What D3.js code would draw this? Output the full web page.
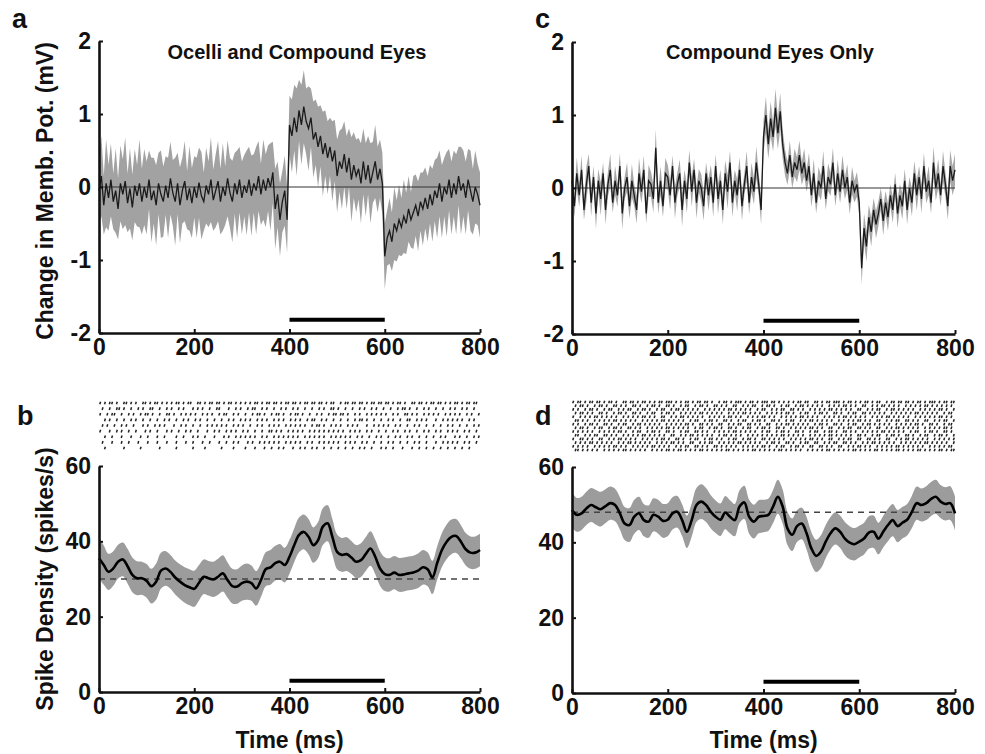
<!DOCTYPE html>
<html lang="en">
<head>
<meta charset="UTF-8" />
<title>Membrane potential and spike density</title>
<style>
  body { margin: 0; background: #fff; }
  svg { display: block; background: #fff; }
  text { font-family: "Liberation Sans", Arial, Helvetica, sans-serif; font-weight: bold; fill: #111; }
  .axis path, .axis line { stroke: #111; }
  .axis path { stroke-width: 2.6; }
  .axis line { stroke-width: 2; }
  .axis text { font-size: 23px; font-family: "Liberation Sans", Arial, sans-serif; font-weight: bold; fill: #111; }
</style>
</head>
<body>
<svg id="fig" width="985" height="754"></svg>
<script src="https://d3js.org/d3.v7.min.js"></script>
<script>
// ---- data ----
const timeTicks = [0, 200, 400, 600, 800];
const vmTicks = [-2, -1, 0, 1, 2];
const rateTicks = [0, 20, 40, 60];
const stimulus = [400, 600];

// membrane potential, one value every 5 ms (mV)
const vmStep = 5;
const vmMeanA = [
  -0.05, 0.15, -0.25, 0.05, -0.15, 0.1, -0.2, -0.05, -0.3, 0.05, -0.1, 0.08, -0.22, -0.02, -0.28, 0.02, -0.12, 0.05, -0.2, 0.0,
  -0.15, 0.1, -0.18, -0.05, -0.25, 0.05, -0.1, -0.2, 0.02, -0.15, 0.12, -0.08, -0.2, 0.05, -0.25, -0.05, 0.08, -0.18, -0.02, -0.22,
  0.0, -0.15, 0.06, -0.12, -0.2, 0.02, -0.1, 0.1, -0.18, -0.05, 0.08, -0.2, 0.0, -0.12, 0.12, -0.08, -0.2, 0.05, -0.1, 0.1,
  -0.15, 0.02, -0.08, 0.1, -0.12, 0.05, -0.05, 0.15, -0.1, 0.1, -0.05, 0.12, 0.0, 0.2, -0.3, -0.1, -0.45, -0.2, -0.05, -0.45,
  0.85, 0.7, 0.95, 0.75, 1.05, 0.85, 1.1, 0.9, 0.8, 0.95, 0.65, 0.75, 0.55, 0.7, 0.45, 0.6, 0.4, 0.55, 0.35, 0.5,
  0.15, 0.35, 0.25, 0.45, 0.2, 0.4, 0.1, 0.3, 0.15, 0.25, 0.05, 0.35, 0.1, 0.3, 0.05, 0.2, 0.35, 0.1, 0.25, 0.05,
  -0.95, -0.7, -0.6, -0.75, -0.5, -0.6, -0.45, -0.55, -0.4, -0.5, -0.3, -0.45, -0.35, -0.25, -0.4, -0.2, -0.3, -0.15, -0.3, -0.1,
  -0.25, -0.05, -0.15, 0.05, -0.2, 0.0, -0.1, 0.1, -0.15, 0.05, -0.1, 0.15, -0.05, 0.05, -0.15, 0.1, -0.05, -0.2, 0.0, -0.1,
  -0.25
];
const vmSemA = [
  .45,.55,.4,.6,.45,.5,.38,.58,.42,.52,.48,.6,.4,.55,.45,.5,.42,.6,.45,.52,
  .5,.4,.58,.45,.55,.42,.6,.48,.4,.55,.5,.45,.6,.42,.52,.45,.55,.4,.58,.48,
  .42,.55,.48,.6,.4,.52,.45,.58,.42,.5,.55,.45,.6,.4,.52,.48,.56,.42,.6,.45,
  .5,.42,.58,.45,.55,.4,.6,.48,.42,.55,.5,.45,.6,.42,.55,.45,.5,.42,.48,.45,
  .4,.5,.45,.6,.42,.55,.5,.45,.58,.4,.52,.45,.55,.42,.58,.45,.5,.4,.55,.42,
  .5,.42,.55,.45,.5,.4,.58,.45,.5,.42,.55,.45,.5,.4,.55,.42,.5,.45,.4,.42,
  .45,.38,.45,.4,.5,.42,.48,.4,.5,.42,.45,.38,.5,.42,.48,.4,.5,.42,.45,.4,
  .5,.42,.55,.45,.5,.4,.58,.42,.5,.45,.55,.4,.6,.45,.5,.42,.55,.45,.5,.42,
  .45
];
const vmMeanC = [
  0.1, -0.25, 0.2, -0.1, 0.25, -0.3, 0.05, 0.3, -0.2, 0.15, -0.35, 0.1, -0.15, 0.2, -0.3, 0.05, 0.25, -0.2, 0.1, -0.1,
  0.3, -0.35, 0.0, 0.15, -0.25, 0.1, -0.1, -0.3, 0.2, -0.05, 0.25, -0.35, 0.1, 0.05, -0.15, 0.55, -0.2, 0.1, -0.25, 0.2,
  0.15, -0.1, 0.3, -0.2, 0.05, 0.2, -0.3, 0.1, -0.15, 0.35, -0.05, 0.25, -0.2, 0.1, 0.0, -0.25, 0.2, -0.1, 0.15, -0.2,
  0.3, -0.15, 0.1, -0.3, 0.2, -0.05, 0.35, -0.2, 0.1, -0.1, 0.25, -0.25, 0.05, 0.3, -0.2, 0.15, -0.05, 0.35, 0.05, -0.3,
  0.7, 1.0, 0.6, 0.95, 0.7, 1.1, 0.75, 1.05, 0.6, 0.35, 0.2, 0.45, 0.15, 0.35, 0.25, 0.45, 0.2, 0.35, 0.1, 0.3,
  -0.1, 0.2, -0.2, 0.1, 0.0, 0.3, -0.15, 0.15, 0.05, 0.35, -0.1, 0.2, -0.05, 0.25, 0.0, 0.15, -0.2, 0.1, -0.05, 0.05,
  -0.2, -1.1, -0.55, -0.8, -0.4, -0.6, -0.3, -0.5, -0.35, -0.15, -0.45, -0.2, -0.4, -0.1, -0.3, 0.05, -0.35, -0.1, -0.25, 0.1,
  -0.3, 0.0, -0.2, 0.2, -0.1, 0.15, -0.15, 0.3, -0.05, 0.1, -0.2, 0.35, 0.0, 0.2, -0.1, 0.3, 0.05, -0.25, 0.3, 0.1,
  0.25
];
const vmSemC = [
  .2,.15,.22,.16,.2,.14,.24,.17,.19,.15,.21,.16,.23,.15,.2,.17,.22,.14,.2,.16,
  .18,.22,.15,.2,.17,.23,.15,.19,.21,.16,.2,.14,.22,.17,.19,.25,.16,.2,.15,.21,
  .17,.2,.15,.22,.16,.19,.23,.15,.2,.17,.21,.15,.22,.16,.19,.2,.15,.22,.17,.2,
  .16,.21,.15,.2,.18,.23,.16,.2,.15,.22,.17,.2,.15,.21,.16,.2,.18,.22,.16,.2,
  .22,.25,.2,.24,.2,.26,.22,.25,.2,.18,.16,.2,.15,.19,.17,.2,.16,.19,.15,.18,
  .16,.2,.15,.19,.17,.21,.15,.19,.16,.2,.15,.19,.16,.2,.15,.18,.16,.19,.15,.17,
  .18,.22,.2,.21,.17,.2,.16,.19,.17,.15,.2,.16,.19,.15,.18,.16,.2,.15,.18,.16,
  .2,.15,.19,.17,.21,.15,.2,.18,.16,.2,.15,.22,.17,.2,.15,.21,.17,.19,.22,.2,
  .22
];

// spike density, one value every 10 ms (spikes/s)
const rateStep = 10;
const rateMeanB = [
  35.5, 33.7, 31.9, 32.8, 34.6, 35.2, 33.4, 31.1, 30.2, 30.2,
  29.5, 28.1, 29.3, 32.2, 32.8, 31.9, 30.4, 29.3, 28.4, 27.8,
  27.4, 29.0, 30.6, 30.2, 29.9, 30.6, 31.5, 29.7, 28.1, 28.0,
  28.9, 29.3, 28.9, 27.5, 29.7, 32.6, 33.1, 34.2, 34.6, 33.7,
  35.9, 39.0, 41.7, 42.5, 41.2, 39.0, 40.3, 43.9, 44.8, 41.2,
  37.2, 36.4, 36.6, 35.7, 34.6, 35.0, 36.6, 38.1, 35.9, 32.8,
  31.3, 31.1, 31.7, 31.1, 31.2, 31.5, 31.7, 32.2, 33.1, 32.6,
  30.4, 34.2, 37.7, 39.9, 41.2, 41.4, 39.9, 37.9, 37.0, 37.0,
  37.7
];
const rateSemB = [
  5.5, 5.2, 4.8, 4.6, 4.5, 4.5, 4.6, 4.6, 4.5, 4.4,
  4.5, 4.6, 4.8, 4.8, 4.6, 4.5, 4.5, 4.6, 4.7, 4.8,
  4.8, 4.7, 4.6, 4.6, 4.7, 4.8, 4.8, 4.7, 4.6, 4.6,
  4.7, 4.8, 4.7, 4.6, 4.5, 4.5, 4.6, 4.6, 4.7, 4.6,
  4.5, 4.5, 4.6, 4.6, 4.7, 4.7, 4.8, 4.9, 4.8, 4.7,
  4.6, 4.5, 4.5, 4.4, 4.4, 4.5, 4.5, 4.6, 4.6, 4.6,
  4.5, 4.4, 4.4, 4.5, 4.5, 4.5, 4.5, 4.6, 4.6, 4.5,
  4.4, 4.4, 4.5, 4.6, 4.6, 4.5, 4.4, 4.3, 4.3, 4.3,
  4.3
];
const rateMeanD = [
  48.6, 47.3, 47.7, 49.0, 49.9, 49.3, 48.8, 49.6, 50.4, 49.9,
  47.7, 45.0, 44.6, 46.8, 47.7, 45.9, 45.5, 47.3, 46.8, 45.7,
  46.0, 47.7, 48.1, 45.9, 42.8, 45.9, 49.9, 50.8, 49.9, 48.1,
  46.8, 46.0, 47.9, 46.8, 45.9, 49.5, 50.6, 46.8, 45.5, 46.8,
  47.0, 47.3, 49.5, 52.1, 49.5, 43.7, 42.0, 44.3, 45.0, 42.4,
  38.4, 36.4, 37.5, 40.2, 42.4, 43.7, 42.8, 41.0, 39.9, 39.5,
  40.2, 41.0, 42.6, 42.8, 41.0, 42.8, 44.6, 45.9, 44.3, 45.2,
  46.0, 48.1, 50.4, 49.9, 50.4, 51.5, 52.1, 50.8, 50.2, 50.4,
  47.7
];
const rateSemD = [
  4.6, 4.5, 4.4, 4.4, 4.5, 4.6, 4.6, 4.5, 4.4, 4.3,
  4.3, 4.4, 4.5, 4.5, 4.4, 4.3, 4.3, 4.4, 4.5, 4.5,
  4.4, 4.3, 4.2, 4.2, 4.3, 4.4, 4.5, 4.6, 4.5, 4.4,
  4.3, 4.3, 4.4, 4.4, 4.3, 4.3, 4.4, 4.5, 4.5, 4.4,
  4.3, 4.3, 4.4, 4.5, 4.5, 4.4, 4.3, 4.2, 4.2, 4.3,
  4.3, 4.3, 4.4, 4.4, 4.3, 4.3, 4.3, 4.4, 4.4, 4.3,
  4.2, 4.2, 4.3, 4.3, 4.2, 4.2, 4.3, 4.3, 4.3, 4.2,
  4.2, 4.3, 4.4, 4.4, 4.5, 4.5, 4.5, 4.4, 4.4, 4.5,
  4.5
];
const baselineB = 30;
const baselineD = 48;

// spike rasters: one string per trial, one character per 5 ms bin ("1" = spike)
const rasterStep = 5;
const rasterB = [
  "1010110100 1101010011 0101101010 1011010110 0110101101 1010110101 0101011010 1101101011 0110101101 1011010110 0101101101 1010110110 1101011010 0110110101 1011010101 1010110110",
  "0100100110 1001001010 0110010010 1001010001 0101001001 1000100101 0010110010 1001001010 0101001001 0010100110 1001001001 0100101001 0010010110 1001001010 0100100101 0010100100",
  "1001011001 0010100101 1010010011 0100101010 1001010100 1011001010 0100101101 0010110100 1011010010 0101001011 0110100101 0010101010 1001010011 0101001010 1010010101 0100101001",
  "0010100100 1001010010 0100100101 0010010100 1010010010 0100101001 0101001010 1001010100 1010100101 1001010010 0100100101 1010010010 0101001001 1001010100 0100101010 1010010100",
  "0101001001 0100100010 1001010100 0100101001 0010010101 0101001010 1001001010 0101010010 1010101001 0110100101 0100101010 0010010101 0100101001 0010100100 1001001010 0100100101",
  "1000100101 0010010001 0100100010 1001001010 0100010010 1001010100 1010010010 0110101001 0101010010 1010101010 1010010101 0010100100 1001010010 1001001010 0101001010 1001010010",
  "0010010001 0001000100 1000100100 0010010001 0100100010 0010100101 0101010010 1001010101 0101001010 1010100101 0101010010 1001001010 0100101001 0100100100 1001010001 0100100101",
  "0100010001 0010001000 1000100010 0010001001 0001001000 1001001010 0010100101 0101010010 1010100101 0010101010 1001010100 1010010010 0101001001 0010100100 0100101010 1001010010",
  "0010000000 1000000100 0000010000 0010000001 0000100000 0100001000 0100010001 0010010100 0100101001 0100100100 1001001001 0100100010 1001000100 0100100100 1001001001 0010010000"
];
const rasterD = [
  "1011010110 1101011010 0110110101 1010101101 1101010110 1011011010 0101101011 1010110101 1101101010 1010110110 0110101101 1101011010 1011010110 0101101101 1010110101 1101011011",
  "0101101001 0110100110 1010011010 0101101001 1010010110 0101101001 1010100110 0101011001 0110100101 1001011010 1010100101 0101101010 0110010101 1010101001 0101010110 1010101010",
  "1010010110 1001011001 0101100101 1010010110 0101101010 1010010101 0101011010 1010100101 1001010110 0110101001 0101010110 1010101001 1001010110 0101101010 1010010101 0101101001",
  "0101101010 0110100101 1010011010 0101100101 1010010101 0101101010 1010010101 0110101010 0101010101 1010010110 0101101001 1010010110 0110101010 1001010101 0101101010 1010010110",
  "1001010101 1010101010 0101010101 1010100110 0101011010 1010100101 0101011010 1001010101 1010100101 0101011010 1010010101 0101101010 1010010101 0110101010 1001010101 0101101010",
  "0110101001 0101010110 1010101001 0101010110 1010101001 0110010110 1001101001 0110010110 1001101001 0110010101 1010101010 0101010101 1010100110 0101011001 1010100110 0101011001",
  "1010010110 1001101001 0110010110 1010101001 0101010110 1001101010 0110010101 1001101010 0110010101 1010101010 0101101001 1010010110 0101101010 1010010101 0101101001 1010010110",
  "0101101001 0110010110 1001101010 0101010101 1010101010 0101100101 1010011010 0101100101 1010011010 0101010101 1010100110 0101011001 1010100110 0101011010 1010100101 0101011010",
  "1010101010 0101010101 1010010110 0101101001 1010010110 0110101001 0101010110 1010101001 0110010110 1001101001 0110010110 1001101010 0101010101 1010101010 0101100101 1010011010",
  "0110010101 1001101010 0101010101 1010101010 0110010101 1010101010 0101101010 1001010101 0101010110 1010101001 0101010110 1010101001 1010010110 0101101001 1010010110 0101101001",
  "1001101010 0110010101 1010101001 0101010110 1001101001 0110010110 1010010110 0101101001 1010101010 0101010101 1010100110 0101011001 1001101010 0110010101 1010101010 0101010101",
  "0101010110 1010101001 0101101010 1010010101 0110101001 1001010110 0101010101 1010101010 0101101001 1010010110 0110010101 1001101010 0101011010 1010100101 0101010110 1010101001",
  "1010101001 0101010110 1010010101 0101101010 1001010110 0110101001 1010101010 0101010101 1010010110 0101101001 1001101010 0110010101 1010100101 0101011010 1010101001 0101010110",
  "0110101010 1001010101 0110101010 1001010101 1010110101 0101101010 1010110101 0101011010 1010101101 0101010010 1010101101 0101010110 1010101101 0101011010 1010110101 0101101011"
];

// ---- drawing ----
const svg = d3.select("#fig");
svg.append("rect").attr("width", 985).attr("height", 754).attr("fill", "#fff");

const fmt = d => String(d);

function timeAxis(g, x, y0) {
  g.append("g").attr("class", "axis")
    .attr("transform", `translate(0,${y0})`)
    .call(d3.axisBottom(x).tickValues(timeTicks).tickFormat(fmt)
      .tickSizeInner(-4).tickSizeOuter(0).tickPadding(6));
}

function valueAxis(g, y, x0, ticks) {
  g.append("g").attr("class", "axis")
    .attr("transform", `translate(${x0},0)`)
    .call(d3.axisLeft(y).tickValues(ticks).tickFormat(fmt)
      .tickSizeInner(-4).tickSizeOuter(0).tickPadding(8));
}

function stimBar(g, x, y, v) {
  g.append("line")
    .attr("x1", x(stimulus[0])).attr("x2", x(stimulus[1]))
    .attr("y1", y(v)).attr("y2", y(v))
    .attr("stroke", "#000").attr("stroke-width", 4);
}

function vmPanel(p) {
  const g = svg.append("g");
  const x = d3.scaleLinear().domain([0, 800]).range(p.xr);
  const y = d3.scaleLinear().domain([-2, 2]).range(p.yr);
  const rows = p.mean.map((m, i) => ({ t: i * vmStep, m, s: p.sem[i] }));

  g.append("path").datum(rows)
    .attr("d", d3.area().x(d => x(d.t)).y0(d => y(d.m - d.s)).y1(d => y(d.m + d.s)))
    .attr("fill", p.band);
  g.append("line")
    .attr("x1", x(0)).attr("x2", x(800)).attr("y1", y(0)).attr("y2", y(0))
    .attr("stroke", "#333").attr("stroke-width", 1);
  g.append("path").datum(rows)
    .attr("d", d3.line().x(d => x(d.t)).y(d => y(d.m)))
    .attr("fill", "none").attr("stroke", "#1a1a1a").attr("stroke-width", 1.3);

  stimBar(g, x, y, -1.82);
  valueAxis(g, y, p.xr[0], vmTicks);
  timeAxis(g, x, p.yr[0]);

  g.append("text").attr("x", p.titleX).attr("y", 59)
    .attr("text-anchor", "middle").attr("font-size", 20).text(p.title);
}

function ratePanel(p) {
  const g = svg.append("g");
  const x = d3.scaleLinear().domain([0, 800]).range(p.xr);
  const y = d3.scaleLinear().domain([0, 60]).range(p.yr);
  const rows = p.mean.map((m, i) => ({ t: i * rateStep, m, s: p.sem[i] }));

  g.append("path").datum(rows)
    .attr("d", d3.area().curve(d3.curveCatmullRom).x(d => x(d.t))
      .y0(d => y(d.m - d.s)).y1(d => y(d.m + d.s)))
    .attr("fill", "#9c9c9c");
  g.append("line")
    .attr("x1", x(0)).attr("x2", x(800)).attr("y1", y(p.base)).attr("y2", y(p.base))
    .attr("stroke", "#444").attr("stroke-width", 1.5).attr("stroke-dasharray", "6,5");
  g.append("path").datum(rows)
    .attr("d", d3.line().curve(d3.curveCatmullRom).x(d => x(d.t)).y(d => y(d.m)))
    .attr("fill", "none").attr("stroke", "#000").attr("stroke-width", 2.6);

  stimBar(g, x, y, 3);
  valueAxis(g, y, p.xr[0], rateTicks);
  timeAxis(g, x, p.yr[0]);

  // raster above
  const trial = d3.scalePoint().domain(d3.range(p.raster.length)).range(p.rasterY);
  p.raster.forEach((row, r) => {
    const bins = row.replace(/\s/g, "").split("");
    const spikes = bins.map((c, i) => c === "1" ? i * rasterStep + rasterStep / 2 : null)
      .filter(t => t !== null);
    g.append("g").selectAll("line").data(spikes).join("line")
      .attr("x1", t => x(t) - 0.4).attr("x2", t => x(t) + 0.4)
      .attr("y1", trial(r) + 1.3).attr("y2", trial(r) - 1.3)
      .attr("stroke", "#222").attr("stroke-width", 1.5);
  });

  g.append("text")
    .attr("x", (p.xr[0] + p.xr[1]) / 2).attr("y", 748)
    .attr("text-anchor", "middle").attr("font-size", 23).text("Time (ms)");
}

vmPanel({ xr: [99, 480], yr: [333, 41], mean: vmMeanA, sem: vmSemA, band: "#a2a2a2",
  title: "Ocelli and Compound Eyes", titleX: 297 });
vmPanel({ xr: [572, 955], yr: [334, 42], mean: vmMeanC, sem: vmSemC, band: "#a8a8a8",
  title: "Compound Eyes Only", titleX: 770 });
ratePanel({ xr: [99, 480], yr: [692, 466], mean: rateMeanB, sem: rateSemB, base: baselineB,
  raster: rasterB, rasterY: [403, 448] });
ratePanel({ xr: [572, 955], yr: [693, 467], mean: rateMeanD, sem: rateSemD, base: baselineD,
  raster: rasterD, rasterY: [402, 450] });

// y-axis labels
svg.append("text").attr("transform", "translate(53,191) rotate(-90)")
  .attr("text-anchor", "middle").attr("font-size", 23).text("Change in Memb. Pot. (mV)");
svg.append("text").attr("transform", "translate(53,579) rotate(-90)")
  .attr("text-anchor", "middle").attr("font-size", 23).text("Spike Density (spikes/s)");

// panel letters
[["a", 12, 28], ["c", 535, 28], ["b", 17, 425], ["d", 535, 425]].forEach(([t, x, y]) => {
  svg.append("text").attr("x", x).attr("y", y).attr("font-size", 27).text(t);
});
</script>
</body>
</html>
